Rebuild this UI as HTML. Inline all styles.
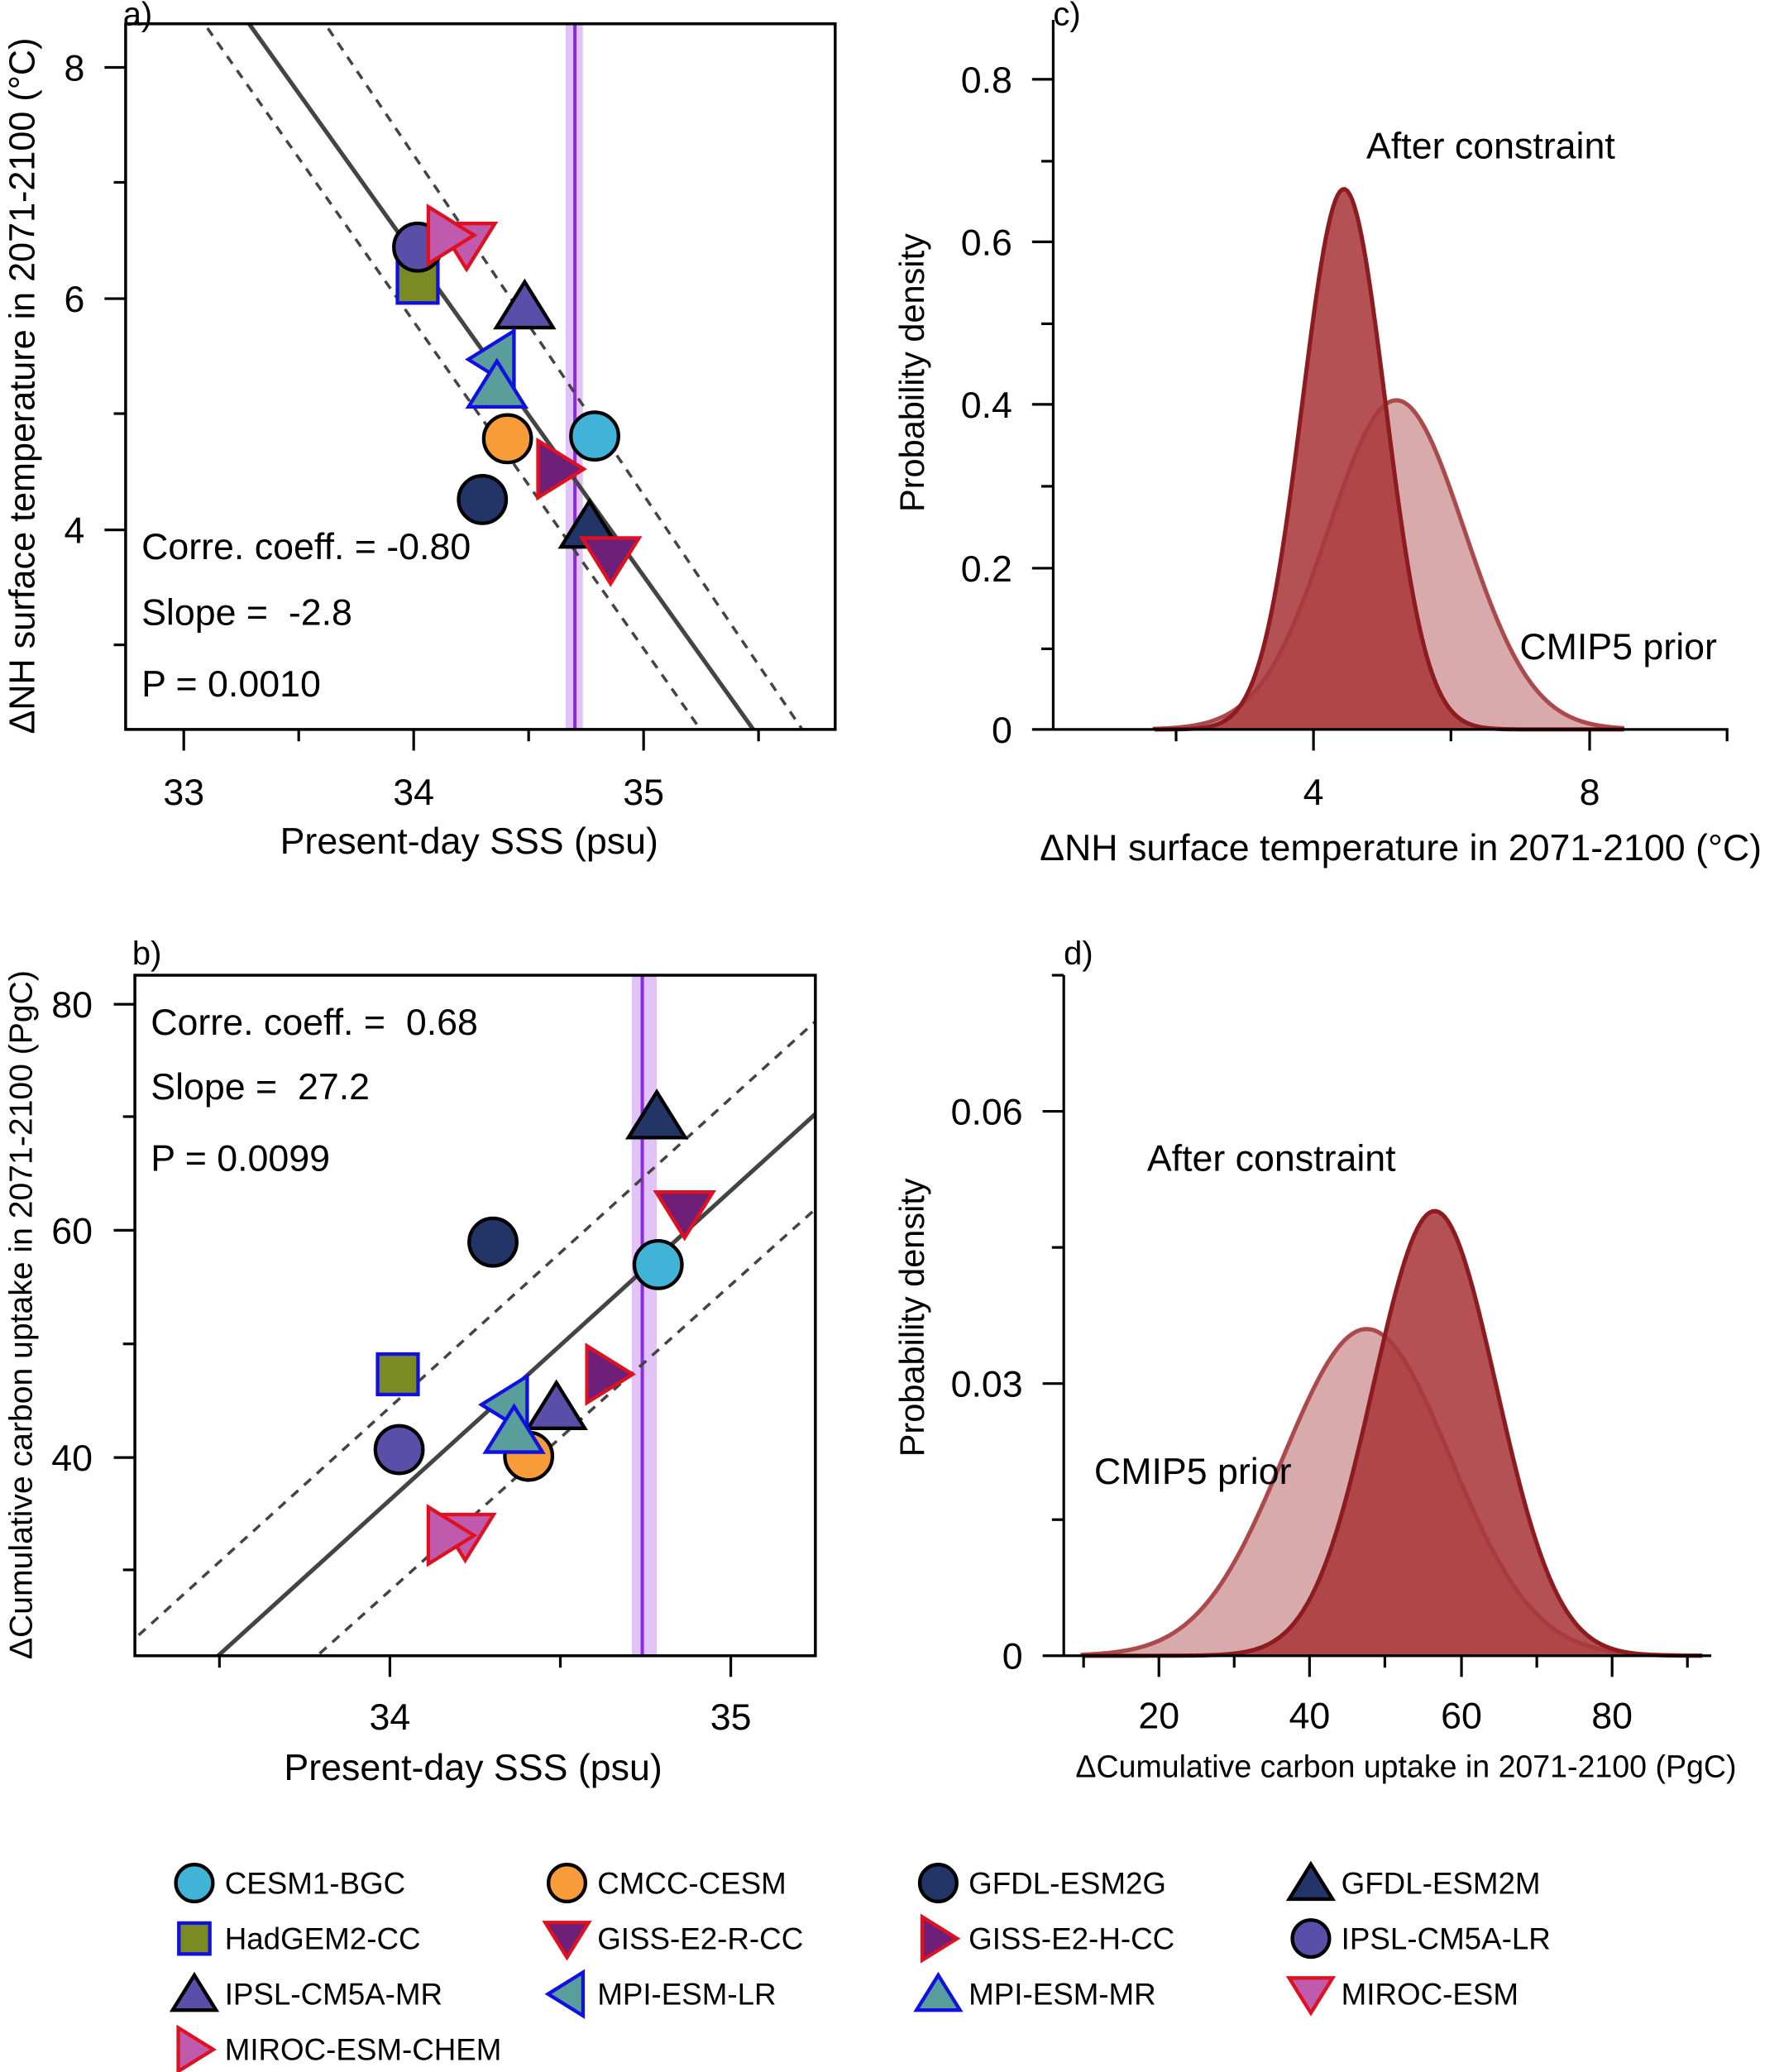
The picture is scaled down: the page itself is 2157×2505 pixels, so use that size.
<!DOCTYPE html>
<html><head><meta charset="utf-8"><style>
html,body{margin:0;padding:0;background:#fff}
svg{display:block}
text{font-family:"Liberation Sans",Arial,sans-serif;fill:#000;white-space:pre}
</style></head><body>
<svg id="s" xmlns="http://www.w3.org/2000/svg" width="2157" height="2505" viewBox="0 0 1350 1568">
<defs>
<clipPath id="ca"><rect x="95" y="18" width="537" height="534"/></clipPath>
<clipPath id="cb"><rect x="102" y="738" width="515" height="515"/></clipPath>
</defs>
<g id="g"></g>
</svg>
<script>
const NS="http://www.w3.org/2000/svg";
const G=document.getElementById('g');
function el(t,a,p){const e=document.createElementNS(NS,t);for(const k in a)e.setAttribute(k,a[k]);(p||G).appendChild(e);return e;}
function txt(x,y,s,sz,anc,rot){const a={x:x,y:y,'font-size':sz,'text-anchor':anc||'start'};if(rot)a.transform=`rotate(-90 ${x} ${y})`;const e=el('text',a);e.setAttributeNS("http://www.w3.org/XML/1998/namespace","xml:space","preserve");e.textContent=s;return e;}
const C={cesm:'#41b3d6',cmcc:'#f89c3a',g2g:'#223566',had:'#7a8b24',giss:'#6e1f78',ipsl:'#5a4fa8',mpi:'#5a9e9c',miroc:'#c05aac'};
function mk(type,x,y,s,fill,stroke,p){
  const sw=2.7;
  if(type=='c') return el('circle',{cx:x,cy:y,r:s,fill:fill,stroke:stroke,'stroke-width':sw},p);
  if(type=='sq') return el('rect',{x:x-s*0.9,y:y-s*0.9,width:s*1.8,height:s*1.8,fill:fill,stroke:stroke,'stroke-width':sw},p);
  let pts;const h=s*1.1;
  if(type=='u') pts=[[x,y-h],[x+h*1.15,y+h*0.85],[x-h*1.15,y+h*0.85]];
  if(type=='d') pts=[[x,y+h],[x+h*1.15,y-h*0.85],[x-h*1.15,y-h*0.85]];
  if(type=='r') pts=[[x+h,y],[x-h*0.85,y-h*1.15],[x-h*0.85,y+h*1.15]];
  if(type=='l') pts=[[x-h,y],[x+h*0.85,y-h*1.15],[x+h*0.85,y+h*1.15]];
  return el('polygon',{points:pts.map(q=>q.join(',')).join(' '),fill:fill,stroke:stroke,'stroke-width':sw,'stroke-linejoin':'miter'},p);
}
const K='#000',B='#1010e0',R='#e01020';
const FS=28;
// ---------- Panel a
el('rect',{x:428,y:18,width:13,height:534,fill:'#e2c3f7'});
el('line',{x1:435,y1:18,x2:435,y2:552,stroke:'#8a2be2','stroke-width':2.5});
let ga=el('g',{'clip-path':'url(#ca)'});
function ln(p,x1,y1,x2,y2,d){el('line',{x1,y1,x2,y2,stroke:'#444','stroke-width':d?2.2:3.2,'stroke-dasharray':d?'7,6':'none'},p);}
function ext(x1,y1,x2,y2,ya,yb){const k=(x2-x1)/(y2-y1);return [x1+k*(ya-y1),ya,x1+k*(yb-y1),yb];}
ln(ga,...ext(197,30,570,552,0,560));
ln(ga,...ext(163,30,530,552,0,560),1);
ln(ga,...ext(254,30,607,552,0,560),1);
el('rect',{x:95,y:18,width:537,height:534,fill:'none',stroke:'#000','stroke-width':2.2});
[[139,'33'],[313,'34'],[487,'35']].forEach(([x,l])=>{el('line',{x1:x,y1:552,x2:x,y2:568,stroke:'#000','stroke-width':2});txt(x,609,l,FS,'middle');});
[226,400,574].forEach(x=>el('line',{x1:x,y1:552,x2:x,y2:561,stroke:'#000','stroke-width':2}));
[[51,'8'],[226,'6'],[401,'4']].forEach(([y,l])=>{el('line',{x1:79,y1:y,x2:95,y2:y,stroke:'#000','stroke-width':2});txt(64,y+10,l,FS,'end');});
[138,313,488].forEach(y=>el('line',{x1:86,y1:y,x2:95,y2:y,stroke:'#000','stroke-width':2}));
txt(93,19,'a)',25);
txt(355,646,'Present-day SSS (psu)',FS,'middle');
txt(26,292,'ΔNH surface temperature in 2071-2100 (°C)',27,'middle',1);
txt(107,423,'Corre. coeff. = -0.80',FS);
txt(107,473,'Slope =  -2.8',FS);
txt(107,527,'P = 0.0010',FS);
let ma=el('g',{});
mk('c',450,330,18,C.cesm,K,ma);
mk('c',384,332,18,C.cmcc,K,ma);
mk('c',365,378,18,C.g2g,K,ma);
mk('u',446,398,17,C.g2g,K,ma);
mk('sq',316,214,17,C.had,B,ma);
mk('d',462,423,17,C.giss,R,ma);
mk('r',423,355,17,C.giss,R,ma);
mk('c',316,187,18,C.ipsl,K,ma);
mk('u',397,232,17,C.ipsl,K,ma);
mk('l',373,272,17,C.mpi,B,ma);
mk('u',376,292,17,C.mpi,B,ma);
mk('d',353,185,17,C.miroc,R,ma);
mk('r',340,178,17,C.miroc,R,ma);
// ---------- Panel b
el('rect',{x:478,y:738,width:19,height:515,fill:'#e2c3f7'});
el('line',{x1:486,y1:738,x2:486,y2:1253,stroke:'#8a2be2','stroke-width':2.5});
let gb=el('g',{'clip-path':'url(#cb)'});
ln(gb,...ext(165,1253,617,843,700,1300));
ln(gb,...ext(102,1240,617,773,700,1300),1);
ln(gb,...ext(240,1253,617,915,700,1300),1);
el('rect',{x:102,y:738,width:515,height:515,fill:'none',stroke:'#000','stroke-width':2.2});
[[295,'34'],[553,'35']].forEach(([x,l])=>{el('line',{x1:x,y1:1253,x2:x,y2:1269,stroke:'#000','stroke-width':2});txt(x,1309,l,FS,'middle');});
[166,424].forEach(x=>el('line',{x1:x,y1:1253,x2:x,y2:1262,stroke:'#000','stroke-width':2}));
[[760,'80'],[931,'60'],[1103,'40']].forEach(([y,l])=>{el('line',{x1:86,y1:y,x2:102,y2:y,stroke:'#000','stroke-width':2});txt(70,y+10,l,FS,'end');});
[845,1017,1188].forEach(y=>el('line',{x1:93,y1:y,x2:102,y2:y,stroke:'#000','stroke-width':2}));
txt(100,730,'b)',25);
txt(358,1347,'Present-day SSS (psu)',FS,'middle');
txt(24,995,'ΔCumulative carbon uptake in 2071-2100 (PgC)',24.5,'middle',1);
txt(114,783,'Corre. coeff. =  0.68',FS);
txt(114,832,'Slope =  27.2',FS);
txt(114,886,'P = 0.0099',FS);
let mb=el('g',{});
mk('c',498,957,18,C.cesm,K,mb);
mk('c',400,1102,18,C.cmcc,K,mb);
mk('c',373,940,18,C.g2g,K,mb);
mk('u',497,845,17,C.g2g,K,mb);
mk('sq',301,1040,17,C.had,B,mb);
mk('d',518,918,17,C.giss,R,mb);
mk('r',460,1040,17,C.giss,R,mb);
mk('c',302,1097,18,C.ipsl,K,mb);
mk('u',421,1065,17,C.ipsl,K,mb);
mk('l',383,1063,17,C.mpi,B,mb);
mk('u',389,1083,17,C.mpi,B,mb);
mk('d',352,1162,17,C.miroc,R,mb);
mk('r',340,1162,17,C.miroc,R,mb);
// ---------- density helper
function gauss(x0,px,mu,sd,y0,py,xa,xb){let d=`M${x0+px*xa},${y0}`;for(let i=0;i<=200;i++){const v=xa+(xb-xa)*i/200;const f=Math.exp(-0.5*((v-mu)/sd)**2)/(sd*Math.sqrt(2*Math.PI));d+=` L${(x0+px*v).toFixed(2)},${(y0-py*f).toFixed(2)}`;}return d;}
el('path',{d:gauss(785,52.25,5.2,0.985,552,615,1.7,8.5),fill:'#d9aaac',stroke:'#aa4a4c','stroke-width':3.2});
el('path',{d:gauss(785,52.25,4.44,0.6,552,615,1.7,8.5),fill:'#a8393c','fill-opacity':0.88,stroke:'#8c1c1f','stroke-width':3.2});
el('line',{x1:797,y1:15,x2:797,y2:552,stroke:'#000','stroke-width':2});
el('line',{x1:797,y1:552,x2:1308,y2:552,stroke:'#000','stroke-width':2});
[[994,'4'],[1203,'8']].forEach(([x,l])=>{el('line',{x1:x,y1:552,x2:x,y2:568,stroke:'#000','stroke-width':2});txt(x,609,l,FS,'middle');});
[890,1098,1307].forEach(x=>el('line',{x1:x,y1:552,x2:x,y2:561,stroke:'#000','stroke-width':2}));
[[552,'0'],[430,'0.2'],[306,'0.4'],[183,'0.6'],[60,'0.8']].forEach(([y,l])=>{el('line',{x1:781,y1:y,x2:797,y2:y,stroke:'#000','stroke-width':2});txt(766,y+10,l,FS,'end');});
[491,368,245,122].forEach(y=>el('line',{x1:788,y1:y,x2:797,y2:y,stroke:'#000','stroke-width':2}));
txt(797,19,'c)',25);
txt(1034,120,'After constraint',FS);
txt(1150,499,'CMIP5 prior',FS);
txt(699,282,'Probability density',26,'middle',1);
txt(1060,651,'ΔNH surface temperature in 2071-2100 (°C)',FS,'middle');
el('path',{d:gauss(762,5.72,47.6,11.08,1253,6867,10,92),fill:'#d9aaac',stroke:'#aa4a4c','stroke-width':3.2});
el('path',{d:gauss(762,5.72,56.6,8.14,1253,6867,10,92),fill:'#a8393c','fill-opacity':0.88,stroke:'#8c1c1f','stroke-width':3.2});
el('line',{x1:805,y1:738,x2:805,y2:1253,stroke:'#000','stroke-width':2});
el('line',{x1:805,y1:1253,x2:1295,y2:1253,stroke:'#000','stroke-width':2});
[[877,'20'],[991,'40'],[1106,'60'],[1220,'80']].forEach(([x,l])=>{el('line',{x1:x,y1:1253,x2:x,y2:1269,stroke:'#000','stroke-width':2});txt(x,1308,l,FS,'middle');});
[820,934,1048,1163,1277].forEach(x=>el('line',{x1:x,y1:1253,x2:x,y2:1262,stroke:'#000','stroke-width':2}));
[[1253,'0'],[1047,'0.03'],[841,'0.06']].forEach(([y,l])=>{el('line',{x1:789,y1:y,x2:805,y2:y,stroke:'#000','stroke-width':2});txt(774,y+10,l,FS,'end');});
[1150,944,738].forEach(y=>el('line',{x1:796,y1:y,x2:805,y2:y,stroke:'#000','stroke-width':2}));
txt(805,730,'d)',25);
txt(868,886,'After constraint',FS);
txt(828,1123,'CMIP5 prior',FS);
txt(699,997,'Probability density',26,'middle',1);
txt(1064,1345,'ΔCumulative carbon uptake in 2071-2100 (PgC)',23.5,'middle');
const L=[
['c',C.cesm,K,'CESM1-BGC'],['c',C.cmcc,K,'CMCC-CESM'],['c',C.g2g,K,'GFDL-ESM2G'],['u',C.g2g,K,'GFDL-ESM2M'],
['sq',C.had,B,'HadGEM2-CC'],['d',C.giss,R,'GISS-E2-R-CC'],['r',C.giss,R,'GISS-E2-H-CC'],['c',C.ipsl,K,'IPSL-CM5A-LR'],
['u',C.ipsl,K,'IPSL-CM5A-MR'],['l',C.mpi,B,'MPI-ESM-LR'],['u',C.mpi,B,'MPI-ESM-MR'],['d',C.miroc,R,'MIROC-ESM'],
['r',C.miroc,R,'MIROC-ESM-CHEM']];
const cx=[147,429,710,992],ry=[1425,1467,1509,1551];
L.forEach((m,i)=>{const x=cx[i%4],y=ry[Math.floor(i/4)];mk(m[0],x,y,m[0]=='c'?14:13,m[1],m[2]);txt(x+23,y+8,m[3],23);});
</script>
</body></html>
